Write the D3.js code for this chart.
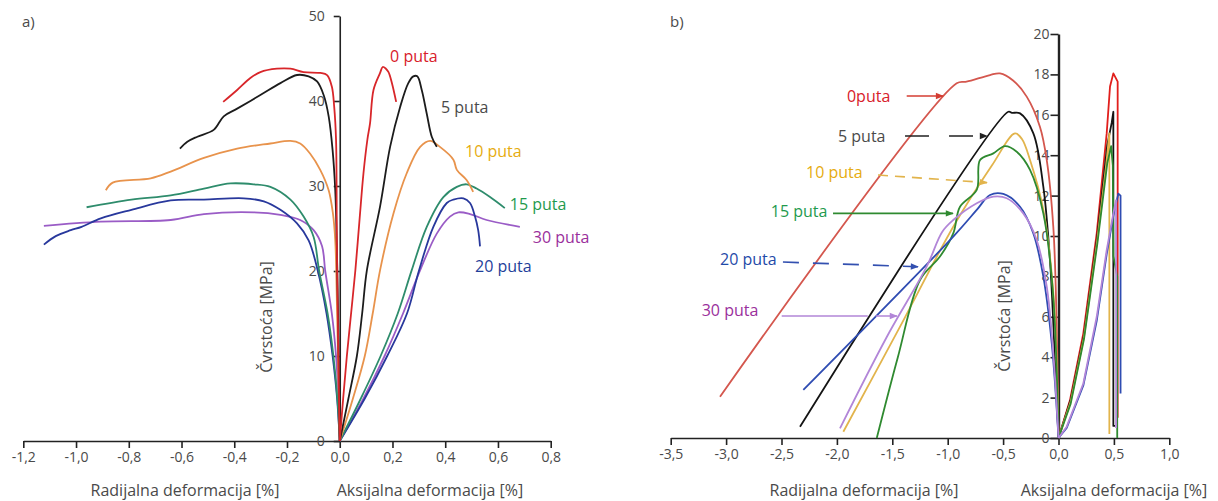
<!DOCTYPE html>
<html>
<head>
<meta charset="utf-8">
<script src="https://cdn.jsdelivr.net/npm/d3@7"></script>
<style>
  body { margin: 0; background: #fff; }
  svg text { font-family: "Open Sans", "Noto Sans", sans-serif; }
</style>
</head>
<body>
<div id="chart"></div>
<script>
// series names, same order for both panels
const seriesNames = ['0 puta', '5 puta', '10 puta', '15 puta', '20 puta', '30 puta'];

// panel a) : [strain %, stress MPa]  (radial < 0, axial > 0)
const aRad0 = [[-0.442,39.9],[-0.389,41.3],[-0.339,42.7],[-0.301,43.4],[-0.238,43.8],[-0.187,43.8],[-0.137,43.4],[-0.074,43.3],[-0.048,43.05],[-0.03,41.7],[-0.021,39.3],[-0.014,35.4],[-0.011,23.6],[-0.006,12],[0,0]];
const aAx0 = [[0,0],[0.013,5],[0.027,10],[0.043,15],[0.059,20],[0.075,26],[0.09,31.5],[0.105,35.5],[0.115,37.4],[0.128,41.3],[0.153,43.3],[0.163,44.0],[0.175,43.8],[0.185,43.4],[0.198,42.1],[0.214,39.9]];
const aRad5 = [[-0.606,34.4],[-0.578,35.2],[-0.54,35.8],[-0.478,36.6],[-0.44,38.2],[-0.389,39.1],[-0.301,40.7],[-0.225,42.1],[-0.162,43.06],[-0.118,42.9],[-0.086,42.3],[-0.061,40.7],[-0.042,38.2],[-0.027,34.2],[-0.017,29.5],[-0.011,23],[-0.005,12],[0,0]];
const aAx5 = [[0,0],[0.033,5],[0.065,10],[0.085,15],[0.103,20.1],[0.153,27.6],[0.191,34.6],[0.229,39.3],[0.26,42.1],[0.279,42.9],[0.294,42.9],[0.311,41.3],[0.33,38.5],[0.349,35.8],[0.368,34.6]];
const aRad10 = [[-0.887,29.5],[-0.861,30.4],[-0.717,30.9],[-0.641,31.7],[-0.515,33.3],[-0.389,34.4],[-0.263,35.0],[-0.187,35.3],[-0.15,35.0],[-0.112,33.8],[-0.074,31.9],[-0.042,29.5],[-0.026,26.8],[-0.017,23.6],[-0.01,15],[-0.004,6],[0,0]];
const aAx10 = [[0,0],[0.05,5],[0.095,10],[0.125,15],[0.153,20.1],[0.204,26.8],[0.254,31.5],[0.305,34.6],[0.343,35.3],[0.38,34.6],[0.431,33.1],[0.444,31.9],[0.481,30.7],[0.506,29.3]];
const aRad15 = [[-0.96,27.5],[-0.79,28.4],[-0.641,28.9],[-0.515,29.7],[-0.414,30.3],[-0.326,30.2],[-0.263,29.9],[-0.187,28.4],[-0.137,26.4],[-0.099,24.0],[-0.078,20],[-0.046,15],[-0.024,10],[-0.009,5],[0,0]];
const aAx15 = [[0,0],[0.08,5],[0.155,10],[0.22,15],[0.273,20.1],[0.33,25.2],[0.393,28.7],[0.444,29.9],[0.481,30.2],[0.519,29.7],[0.57,28.7],[0.626,27.4]];
const aRad20 = [[-1.122,23.1],[-1.077,24.1],[-1.02,24.8],[-0.979,25.2],[-0.906,26.2],[-0.79,27.2],[-0.641,28.3],[-0.515,28.4],[-0.364,28.55],[-0.288,28.2],[-0.225,27.2],[-0.162,25.6],[-0.118,23.6],[-0.083,20],[-0.05,15],[-0.027,10],[-0.01,5],[0,0]];
const aAx20 = [[0,0],[0.095,5],[0.18,10],[0.255,15],[0.3,20],[0.355,25.2],[0.406,28.0],[0.431,28.4],[0.469,28.55],[0.494,28.0],[0.513,26.4],[0.525,24.8],[0.532,22.9]];
const aRad30 = [[-1.122,25.3],[-0.906,25.8],[-0.641,26.0],[-0.515,26.7],[-0.326,26.9],[-0.225,26.6],[-0.15,26.0],[-0.099,24.8],[-0.067,22.9],[-0.055,20],[-0.03,15],[-0.014,10],[-0.005,5],[0,0]];
const aAx30 = [[0,0],[0.09,5],[0.17,10],[0.24,15],[0.305,20.1],[0.368,24.4],[0.418,26.4],[0.45,26.9],[0.494,26.7],[0.557,26.0],[0.683,25.2]];

// panel b)
const bRad0 = [[-3.055,2.04],[-0.919,17.56],[-0.83,17.64],[-0.618,17.97],[-0.528,18.05],[-0.41,17.7],[-0.287,16.9],[-0.167,15.4],[-0.106,13.76],[-0.047,10.46],[-0.016,5.5],[0,0]];
const bAx0 = [[0,0],[0.104,1.88],[0.224,5.18],[0.345,10.13],[0.435,15.08],[0.465,17.4],[0.495,18.05],[0.534,17.64],[0.534,1.0]];
const bRad5 = [[-2.333,0.56],[-0.453,16.15],[-0.42,16.1],[-0.347,16.07],[-0.227,15.08],[-0.137,12.44],[-0.077,8.81],[-0.032,3.86],[0,0]];
const bAx5 = [[0,0],[0.11,1.9],[0.23,5.1],[0.35,10],[0.44,14.5],[0.48,15.6],[0.495,16.15],[0.495,0.6],[0.51,0.6]];
const bRad10 = [[-1.942,0.31],[-1.43,5.51],[-0.95,10.46],[-0.6,13.5],[-0.393,15.08],[-0.33,14.8],[-0.257,13.76],[-0.137,11.3],[-0.047,7.2],[0,0]];
const bAx10 = [[0,0],[0.11,1.8],[0.23,5],[0.35,9.8],[0.43,13.5],[0.459,15.08],[0.459,0.2]];
const bRad15 = [[-1.64,0],[-1.45,4],[-1.25,7.82],[-1.07,8.98],[-0.95,10.13],[-0.889,11.45],[-0.738,12.28],[-0.708,13.76],[-0.588,14.09],[-0.483,14.45],[-0.377,14.17],[-0.257,13.27],[-0.137,11.12],[-0.05,7.2],[0,0]];
const bAx15 = [[0,0],[0.11,1.7],[0.23,4.9],[0.35,9.6],[0.44,13.6],[0.475,14.45],[0.49,13.5],[0.495,9],[0.53,8],[0.53,0]];
const bRad20 = [[-2.303,2.38],[-0.95,9.97],[-0.738,11.29],[-0.618,12.03],[-0.498,12.08],[-0.347,11.45],[-0.227,10.13],[-0.137,7.99],[-0.061,4.69],[0,0]];
const bAx20 = [[0,0],[0.074,0.5],[0.224,2.6],[0.345,5.8],[0.435,9.1],[0.495,11],[0.54,12.1],[0.56,12.0],[0.56,2.2]];
const bRad30 = [[-1.972,0.48],[-1.55,5.0],[-1.19,8.48],[-1.05,10.2],[-0.95,10.79],[-0.738,11.62],[-0.588,11.95],[-0.467,11.87],[-0.318,11.12],[-0.197,9.8],[-0.106,7.49],[-0.047,4.19],[0,0]];
const bAx30 = [[0,0],[0.074,0.56],[0.224,2.7],[0.345,6],[0.435,9.3],[0.495,11.12],[0.52,11.78],[0.52,0.5]];

// ticks
const aTicksX = [-1.2, -1.0, -0.8, -0.6, -0.4, -0.2, 0, 0.2, 0.4, 0.6, 0.8];
const aMinorX = [-1.1, -0.9, -0.7, -0.5, -0.3, -0.1, 0.1, 0.3, 0.5, 0.7];
const aTicksY = [0, 10, 20, 30, 40, 50];
const aMinorY = [5, 15, 25, 35, 45];
const bTicksX = [-3.5, -3.0, -2.5, -2.0, -1.5, -1.0, -0.5, 0, 0.5, 1.0];
const bMinorX = [-3.25, -2.75, -2.25, -1.75, -1.25, -0.75, -0.25, 0.25, 0.75];
const bTicksY = [0, 2, 4, 6, 8, 10, 12, 14, 16, 18, 20];
const bMinorY = [1, 3, 5, 7, 9, 11, 13, 15, 17, 19];

const W = 1218, H = 501;
const svg = d3.select('#chart').append('svg')
  .attr('width', W).attr('height', H);

const commaFmt = (d) => d3.format('.1f')(d).replace('.', ',').replace('−', '-');
const smooth = d3.curveCatmullRom.alpha(0.5);

function drawAxes(x, y, o) {
  const gx = svg.append('g').attr('transform', `translate(0,${y(0)})`);
  gx.call(d3.axisBottom(x).tickValues(o.minorX).tickSize(4).tickFormat('').tickSizeOuter(0));
  gx.call(d3.axisBottom(x).tickValues(o.ticksX).tickSize(7).tickPadding(4).tickFormat(commaFmt).tickSizeOuter(0));
  const gy = svg.append('g').attr('transform', `translate(${x(0)},0)`);
  gy.call(d3.axisLeft(y).tickValues(o.minorY).tickSize(4).tickFormat('').tickSizeOuter(0));
  gy.call(d3.axisLeft(y).tickValues(o.ticksY).tickSize(o.ySize).tickPadding(o.yPad).tickSizeOuter(0));
  [gx, gy].forEach((g) => {
    g.selectAll('path').attr('stroke', '#222').attr('stroke-width', o.axisW);
    g.selectAll('line').attr('stroke', '#222').attr('stroke-width', 1.6);
    g.selectAll('text').attr('fill', '#4a4a4a').style('font-size', '14px');
  });
  gy.select('.domain').attr('stroke-width', o.yAxisW);
}

function drawLines(x, y, series) {
  series.forEach((s) => {
    const line = d3.line().x((d) => x(d[0])).y((d) => y(d[1]))
      .curve(s.curve || d3.curveLinear);
    svg.append('path').datum(s.data)
      .attr('fill', 'none')
      .attr('stroke', s.color)
      .attr('stroke-width', 1.8)
      .attr('stroke-linejoin', 'round')
      .attr('d', line);
  });
}

function label(x, y, txt, xv, yv, color) {
  svg.append('text')
    .attr('x', x(xv)).attr('y', y(yv))
    .attr('dy', '0.35em')
    .attr('fill', color)
    .style('font-size', '16px')
    .text(txt);
}

function axisTitles(xL, xR, yMid, yx) {
  svg.append('text').attr('x', xL).attr('y', 496).attr('text-anchor', 'middle')
    .attr('fill', '#4a4a4a').style('font-size', '16px').text('Radijalna deformacija [%]');
  svg.append('text').attr('x', xR).attr('y', 496).attr('text-anchor', 'middle')
    .attr('fill', '#4a4a4a').style('font-size', '16px').text('Aksijalna deformacija [%]');
  svg.append('text')
    .attr('transform', `translate(${yx},${yMid}) rotate(-90)`)
    .attr('text-anchor', 'middle')
    .attr('fill', '#4a4a4a').style('font-size', '16px').text('Čvrstoća [MPa]');
}

// ---------- panel a ----------
const xa = d3.scaleLinear().domain([-1.2, 0.8]).range([23.3, 550.7]);
const ya = d3.scaleLinear().domain([0, 50]).range([441, 16]);

const aColors = ['#d8262a', '#1c1c1c', '#e8934c', '#2e8c6c', '#28389c', '#9a5cc6'];
const aRad = [aRad0, aRad5, aRad10, aRad15, aRad20, aRad30];
const aAx = [aAx0, aAx5, aAx10, aAx15, aAx20, aAx30];

drawAxes(xa, ya, {
  ticksX: aTicksX, minorX: aMinorX, ticksY: aTicksY, minorY: aMinorY,
  ySize: 6, yPad: 9, axisW: 1.6, yAxisW: 1.6
});
// draw order: back to front
[5, 4, 3, 2, 1, 0].forEach((i) => {
  drawLines(xa, ya, [
    { data: aRad[i], color: aColors[i], curve: smooth },
    { data: aAx[i], color: aColors[i], curve: smooth }
  ]);
});

const aLabelColors = ['#d8202a', '#4a4a4a', '#e6ac10', '#1f9a4e', '#1f3f9a', '#9a2f9c'];
label(xa, ya, '0 puta', 0.191, 45.3, aLabelColors[0]);
label(xa, ya, '5 puta', 0.384, 39.2, aLabelColors[1]);
label(xa, ya, '10 puta', 0.475, 34.1, aLabelColors[2]);
label(xa, ya, '15 puta', 0.645, 27.8, aLabelColors[3]);
label(xa, ya, '30 puta', 0.732, 24.0, aLabelColors[5]);
label(xa, ya, '20 puta', 0.513, 20.5, aLabelColors[4]);

svg.append('text').attr('x', 22).attr('y', 27).attr('fill', '#4a4a4a')
  .style('font-size', '15px').text('a)');
axisTitles(185, 430, 317, 272);

// ---------- panel b ----------
const xb = d3.scaleLinear().domain([-3.5, 1.0]).range([670.7, 1169.3]);
const yb = d3.scaleLinear().domain([0, 20]).range([438, 34]);

const bColors = ['#d4574e', '#141414', '#e2b44c', '#2f8a30', '#2f4cb2', '#b286d8'];
const bAxColors = ['#e11f1c', '#141414', '#e2b44c', '#2f8a30', '#2f4cb2', '#b286d8'];
const bRad = [bRad0, bRad5, bRad10, bRad15, bRad20, bRad30];
const bAx = [bAx0, bAx5, bAx10, bAx15, bAx20, bAx30];

drawAxes(xb, yb, {
  ticksX: bTicksX, minorX: bMinorX, ticksY: bTicksY, minorY: bMinorY,
  ySize: 8, yPad: 1, axisW: 1.6, yAxisW: 2.4
});
[0, 1, 2, 3, 4, 5].forEach((i) => {
  drawLines(xb, yb, [
    { data: bRad[i], color: bColors[i], curve: smooth },
    { data: bAx[i], color: bAxColors[i] }
  ]);
});

// annotation arrows
const arrowColors = ['#d43c32', '#222222', '#e2b44c', '#2f8a30', '#3350b0', '#b286d8'];
const defs = svg.append('defs');
arrowColors.forEach((c, i) => {
  defs.append('marker').attr('id', 'arr' + i)
    .attr('viewBox', '0 0 10 10').attr('refX', 9).attr('refY', 5)
    .attr('markerWidth', 7).attr('markerHeight', 5).attr('orient', 'auto')
    .append('path').attr('d', 'M0,1 L10,5 L0,9 Z').attr('fill', c);
});

const bLabels = [
  { t: '0puta', lx: -1.909, ly: 16.93, x1: -1.37, y1: 16.93, x2: -1.042, y2: 16.93, dash: null },
  { t: '5 puta', lx: -1.99, ly: 14.95, x1: -1.385, y1: 14.95, x2: -0.645, y2: 14.95, dash: '24,20' },
  { t: '10 puta', lx: -2.279, ly: 13.13, x1: -1.629, y1: 13.02, x2: -0.645, y2: 12.64, dash: '10,7' },
  { t: '15 puta', lx: -2.597, ly: 11.2, x1: -2.035, y1: 11.12, x2: -0.952, y2: 11.12, dash: null },
  { t: '20 puta', lx: -3.055, ly: 8.85, x1: -2.487, y1: 8.71, x2: -1.268, y2: 8.48, dash: '16,14' },
  { t: '30 puta', lx: -3.22, ly: 6.3, x1: -2.498, y1: 6.04, x2: -1.458, y2: 6.04, dash: '86,8' }
];
const bLabelColors = ['#d8202a', '#4a4a4a', '#e6ac10', '#1f9a4e', '#1f4aa8', '#9a2f9c'];
bLabels.forEach((d, i) => {
  label(xb, yb, d.t, d.lx, d.ly, bLabelColors[i]);
  svg.append('line')
    .attr('x1', xb(d.x1)).attr('y1', yb(d.y1))
    .attr('x2', xb(d.x2)).attr('y2', yb(d.y2))
    .attr('stroke', arrowColors[i]).attr('stroke-width', 1.6)
    .attr('stroke-dasharray', d.dash)
    .attr('marker-end', `url(#arr${i})`);
});

svg.append('text').attr('x', 670).attr('y', 27).attr('fill', '#4a4a4a')
  .style('font-size', '15px').text('b)');
axisTitles(864, 1114, 316, 1010);
</script>
</body>
</html>
